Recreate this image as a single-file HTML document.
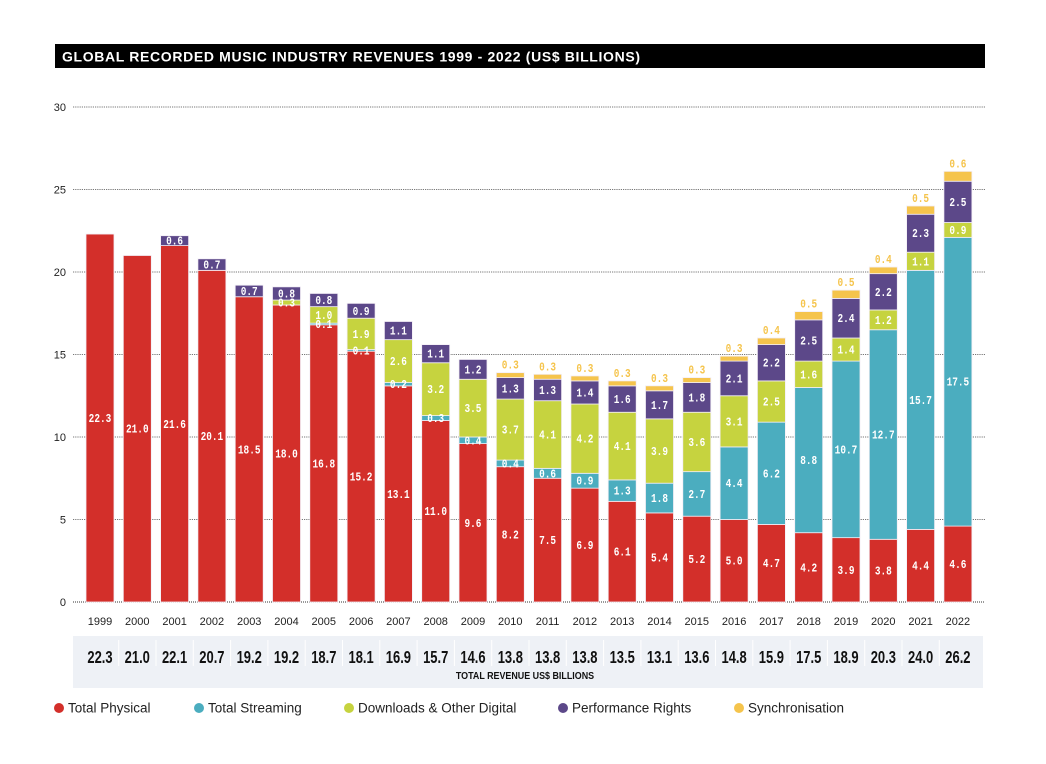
<!DOCTYPE html>
<html><head><meta charset="utf-8"><style>
body{margin:0;background:#fff;width:1046px;height:764px;overflow:hidden;font-family:"Liberation Sans",sans-serif}
svg{display:block}
</style></head><body>
<svg width="1046" height="764" id="chart">
<rect x="55" y="44" width="930" height="24" fill="#000"/>
<text x="62" y="61.5" fill="#fff" font-family="Liberation Sans, sans-serif" font-weight="bold" font-size="14" letter-spacing="0.65">GLOBAL RECORDED MUSIC INDUSTRY REVENUES 1999 - 2022 (US$ BILLIONS)</text>
<rect x="73" y="636" width="910" height="52" fill="#eef1f6"/>
<text x="525" y="679" text-anchor="middle" font-size="10.5" font-weight="bold" fill="#111" transform="translate(525 0) scale(0.85 1) translate(-525 0)">TOTAL REVENUE US$ BILLIONS</text>
<g id="grid"></g><g id="bars"></g><g id="labels"></g><g id="legend"></g>
</svg>
<script>
const years=[1999,2000,2001,2002,2003,2004,2005,2006,2007,2008,2009,2010,2011,2012,2013,2014,2015,2016,2017,2018,2019,2020,2021,2022];
const physical=[22.3,21.0,21.6,20.1,18.5,18.0,16.8,15.2,13.1,11.0,9.6,8.2,7.5,6.9,6.1,5.4,5.2,5.0,4.7,4.2,3.9,3.8,4.4,4.6];
const streaming=[0,0,0,0,0,0,0.1,0.1,0.2,0.3,0.4,0.4,0.6,0.9,1.3,1.8,2.7,4.4,6.2,8.8,10.7,12.7,15.7,17.5];
const downloads=[0,0,0,0,0,0.3,1.0,1.9,2.6,3.2,3.5,3.7,4.1,4.2,4.1,3.9,3.6,3.1,2.5,1.6,1.4,1.2,1.1,0.9];
const performance=[0,0,0.6,0.7,0.7,0.8,0.8,0.9,1.1,1.1,1.2,1.3,1.3,1.4,1.6,1.7,1.8,2.1,2.2,2.5,2.4,2.2,2.3,2.5];
const sync=[0,0,0,0,0,0,0,0,0,0,0,0.3,0.3,0.3,0.3,0.3,0.3,0.3,0.4,0.5,0.5,0.4,0.5,0.6];
const totals=[22.3,21.0,22.1,20.7,19.2,19.2,18.7,18.1,16.9,15.7,14.6,13.8,13.8,13.8,13.5,13.1,13.6,14.8,15.9,17.5,18.9,20.3,24.0,26.2];
const yTicks=[0,5,10,15,20,25,30];
const seriesNames=["Total Physical","Total Streaming","Downloads & Other Digital","Performance Rights","Synchronisation"];
const NS="http://www.w3.org/2000/svg";
const colors=["#d32f2a","#4badbf","#c6d33f","#5c4889","#f5c44c"];
const y=v=>602-v*16.5;
const x=i=>100+i*37.3;
const BW=28;
function mk(tag,attrs,parent,txt){const e=document.createElementNS(NS,tag);for(const k in attrs)e.setAttribute(k,attrs[k]);if(txt!==undefined)e.textContent=txt;document.getElementById(parent).appendChild(e);return e;}
yTicks.forEach(t=>{
  const l=mk('line',{x1:73,x2:985,y1:y(t),y2:y(t),stroke:t===0?'#333':'#777','stroke-width':1,'stroke-dasharray':t===0?'1 1':'1.2 1'},'grid');
  
  
  const tx=mk('text',{x:66,y:y(t)+4,'text-anchor':'end','font-size':11,fill:'#222'},'grid',String(t));
  
  
});
const series=[physical,streaming,downloads,performance,sync];
const keys=['physical','streaming','downloads','performance','sync'];
years.forEach((yr,i)=>{
  let base=0;
  series.forEach((s,k)=>{
    const v=s[i]; if(!v) return;
    const r=mk('rect',{x:x(i)-BW/2,y:y(base+v),width:BW,height:v*16.5,fill:colors[k],stroke:'#f3eef6','stroke-width':0.8},'bars');
    
    
    const cy=k===4? y(base+v)-4 : y(base+v/2)+4;
    const t=mk('text',{x:x(i),y:cy,'text-anchor':'middle','font-family':'Liberation Mono, monospace','font-weight':'bold','font-size':11.5,fill:k===4?'#f5c44c':'#fff',transform:`translate(${x(i)} 0) scale(0.82 1) translate(${-x(i)} 0)`},'labels',v.toFixed(1));
    
    
    base+=v;
  });
  const yl=mk('text',{x:x(i),y:625,'text-anchor':'middle','font-size':11,fill:'#222'},'labels',String(yr));
  
  
  const tt=mk('text',{x:x(i),y:663,'text-anchor':'middle','font-size':18,'font-weight':'bold',fill:'#111',transform:`translate(${x(i)} 0) scale(0.72 1) translate(${-x(i)} 0)`},'labels',totals[i].toFixed(1));
  
  
  if(i>0){const sp=mk('line',{x1:x(i)-18.6,x2:x(i)-18.6,y1:640,y2:666,stroke:'#fff','stroke-width':1},'labels');
  
  }
});
const lx=[59,199,349,563,739];
seriesNames.forEach((n,k)=>{
  const c=mk('circle',{cx:lx[k],cy:708,r:5,fill:colors[k]},'legend');
  
  
  const t=mk('text',{x:lx[k]+9,y:712.5,'font-size':13.5,fill:'#222'},'legend',n);
  
  
});
</script>
</body></html>
